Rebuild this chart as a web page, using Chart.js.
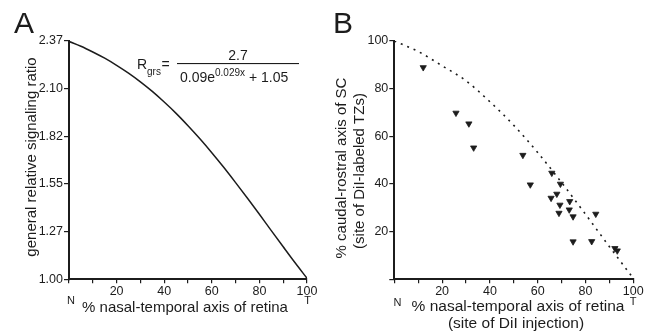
<!DOCTYPE html>
<html>
<head>
<meta charset="utf-8">
<script src="https://cdn.jsdelivr.net/npm/chart.js@4.4.1/dist/chart.umd.min.js"></script>
<style>
  html, body { margin: 0; padding: 0; background: #fff; }
  #wrap { position: relative; width: 657px; height: 333px; overflow: hidden; }
  canvas { position: absolute; top: 0; }
  #chartA { left: 0; }
  #chartB { left: 330px; }
</style>
</head>
<body>
<div id="wrap">
  <canvas id="chartA" width="330" height="333"></canvas>
  <canvas id="chartB" width="327" height="333"></canvas>
</div>
<script>
// panel A - general relative signaling ratio along the retina
const retinaPos = [0, 5, 10, 15, 20, 25, 30, 35, 40, 45, 50, 55, 60, 65, 70, 75, 80, 85, 90, 95, 100];
const signalRatio = [2.368, 2.340, 2.307, 2.271, 2.230, 2.185, 2.135, 2.080, 2.019, 1.954, 1.883,
                     1.808, 1.728, 1.644, 1.556, 1.466, 1.374, 1.280, 1.187, 1.095, 1.006];
const ratioTicks = [1.00, 1.274, 1.548, 1.822, 2.096, 2.37];

// panel B - DiI injections vs. labeled TZs, with the predicted curve (dotted)
const fitPos = [0, 10, 20, 30, 40, 50, 60, 70, 80, 90, 100];
const fitTZ = [100, 95.6, 89.6, 83.3, 74.5, 64.6, 53.2, 40.6, 27.3, 13.7, 0.4];
const injectionSite = [12.1, 25.8, 31.2, 33.2, 53.8, 65.9, 56.9, 69.5, 68.0, 65.6,
                       69.3, 73.4, 73.2, 68.9, 74.8, 84.3, 74.8, 82.6, 92.3, 93.3];
const tzSite = [88.9, 69.8, 65.3, 55.2, 52.1, 44.6, 39.7, 40.0, 35.8, 34.1,
                31.2, 32.7, 29.2, 27.8, 26.3, 27.4, 15.8, 15.9, 13.0, 12.0];

// tick labels, one per tick (ticks every 10 / 20)
const pctTickLabels = ['', '', '20', '', '40', '', '60', '', '80', '', '100'];
const tzTickLabels = ['', '20', '40', '60', '80', '100'];

const ink = '#1c1c1c';
const FONT = "'Liberation Sans', Arial, Helvetica, sans-serif";
Chart.defaults.font.family = FONT;
Chart.defaults.color = ink;

function pairs(xs, ys) {
    return xs.map((x, i) => ({ x: x, y: ys[i] }));
}

function xAxis(axisH) {
    return {
        type: 'linear', min: 0, max: 100,
        afterBuildTicks: s => { s.ticks = pctTickLabels.map((_, i) => ({ value: i * 10 })); },
        afterFit: s => { s.height = axisH; },
        grid: { drawOnChartArea: false, drawTicks: true, tickLength: 4, color: ink, lineWidth: 1.2 },
        border: { display: true, color: ink, width: 2 },
        ticks: { autoSkip: false, maxRotation: 0, padding: 1, color: ink, font: { size: 12.5 },
                 callback: (v, i) => pctTickLabels[i] }
    };
}

function yAxis(axisW, values, labels) {
    return {
        type: 'linear', min: values[0], max: values[values.length - 1],
        afterBuildTicks: s => { s.ticks = values.map(v => ({ value: v })); },
        afterFit: s => { s.width = axisW; },
        grid: { drawOnChartArea: false, drawTicks: true, tickLength: 5, color: ink, lineWidth: 1.2 },
        border: { display: true, color: ink, width: 2 },
        ticks: { autoSkip: false, padding: 1, color: ink, font: { size: 12.5 },
                 callback: (v, i) => labels[i] }
    };
}

// draws titles, panel letters and N / T marks at fixed spots
const panelText = {
    id: 'panelText',
    afterDraw(chart, args, opts) {
        const ctx = chart.ctx;
        ctx.save();
        ctx.fillStyle = ink;
        (opts.items || []).forEach(t => {
            ctx.save();
            ctx.font = (t.size || 15) + 'px ' + FONT;
            ctx.textAlign = t.align || 'center';
            ctx.textBaseline = t.baseline || 'middle';
            ctx.translate(t.x, t.y);
            if (t.rot) ctx.rotate(t.rot);
            ctx.fillText(t.text, 0, 0);
            ctx.restore();
        });
        if (opts.formula) drawFormula(ctx);
        ctx.restore();
    }
};

function drawFormula(ctx) {
    ctx.textAlign = 'left';
    ctx.textBaseline = 'alphabetic';
    ctx.font = '14px ' + FONT;
    ctx.fillText('R', 137, 68.5);
    ctx.font = '10px ' + FONT;
    ctx.fillText('grs', 147, 74.5);
    ctx.font = '14px ' + FONT;
    ctx.fillText('=', 161.5, 68.5);
    ctx.textAlign = 'center';
    ctx.fillText('2.7', 238, 60);
    ctx.fillRect(177, 63, 122, 1.1);
    ctx.textAlign = 'left';
    let x = 180;
    ctx.fillText('0.09e', x, 81.7);
    x += ctx.measureText('0.09e').width;
    ctx.font = '10px ' + FONT;
    ctx.fillText('0.029x', x, 76);
    x += ctx.measureText('0.029x').width;
    ctx.font = '14px ' + FONT;
    ctx.fillText(' + 1.05', x, 81.7);
}

const common = {
    responsive: false,
    animation: false,
    devicePixelRatio: 1,
    plugins: { legend: { display: false }, tooltip: { enabled: false } }
};

new Chart(document.getElementById('chartA'), {
    type: 'scatter',
    data: {
        datasets: [{
            data: pairs(retinaPos, signalRatio),
            showLine: true,
            borderColor: ink,
            borderWidth: 1.5,
            pointRadius: 0,
            cubicInterpolationMode: 'monotone'
        }]
    },
    options: Object.assign({}, common, {
        layout: { padding: { left: 0, top: 41, right: 23, bottom: 0 } },
        scales: {
            x: xAxis(53.7),
            y: yAxis(69, ratioTicks, ratioTicks.map(v => v.toFixed(2)))
        },
        plugins: Object.assign({}, common.plugins, {
            panelText: {
                formula: true,
                items: [
                    { text: 'A', x: 14, y: 33, size: 30, align: 'left', baseline: 'alphabetic' },
                    { text: 'general relative signaling ratio', x: 32, y: 157, size: 15, rot: -Math.PI / 2 },
                    { text: '% nasal-temporal axis of retina', x: 185, y: 308, size: 15 },
                    { text: 'N', x: 71, y: 301, size: 11 },
                    { text: 'T', x: 307.5, y: 300.5, size: 11 }
                ]
            }
        })
    }),
    plugins: [panelText]
});

new Chart(document.getElementById('chartB'), {
    type: 'scatter',
    data: {
        datasets: [{
            data: pairs(fitPos, fitTZ),
            showLine: true,
            borderColor: ink,
            borderWidth: 1.6,
            borderDash: [2, 5],
            pointRadius: 0,
            cubicInterpolationMode: 'monotone'
        }, {
            data: pairs(injectionSite, tzSite),
            pointStyle: 'triangle',
            rotation: 180,
            pointRadius: 3.6,
            backgroundColor: ink,
            borderColor: ink,
            borderWidth: 0.8
        }]
    },
    options: Object.assign({}, common, {
        layout: { padding: { left: 0, top: 41, right: 23.7, bottom: 0 } },
        scales: {
            x: xAxis(53.7),
            y: yAxis(64.3, [0, 20, 40, 60, 80, 100], tzTickLabels)
        },
        plugins: Object.assign({}, common.plugins, {
            panelText: {
                items: [
                    { text: 'B', x: 3, y: 33, size: 30, align: 'left', baseline: 'alphabetic' },
                    { text: '% caudal-rostral axis of SC', x: 12, y: 168, size: 15, rot: -Math.PI / 2 },
                    { text: '(site of DiI-labeled TZs)', x: 30, y: 171, size: 15, rot: -Math.PI / 2 },
                    { text: '% nasal-temporal axis of retina', x: 188, y: 307, size: 15.5 },
                    { text: '(site of DiI injection)', x: 186, y: 324, size: 15.5 },
                    { text: 'N', x: 67.5, y: 302.5, size: 11 },
                    { text: 'T', x: 303, y: 301.5, size: 11 }
                ]
            }
        })
    }),
    plugins: [panelText]
});
</script>
</body>
</html>
